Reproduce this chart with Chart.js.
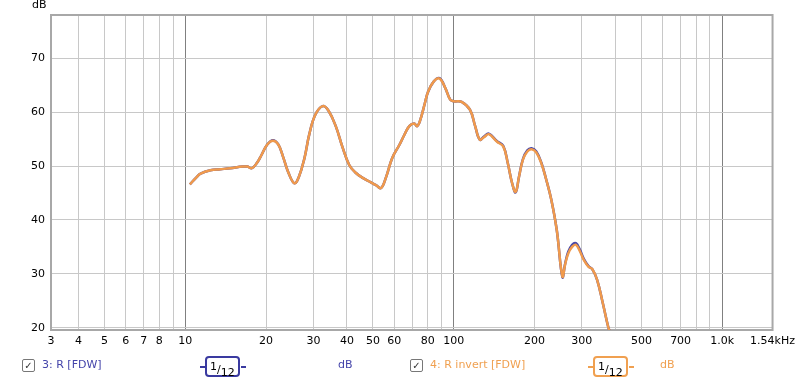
<!DOCTYPE html>
<html lang="en">
<head>
  <meta charset="UTF-8">
  <title>R / R invert [FDW]</title>
  <script src="https://cdn.jsdelivr.net/npm/chart.js"></script>
  <style>
    body { margin: 0; background: #fff; font-family: "DejaVu Sans", sans-serif; }
    #wrap { position: relative; width: 800px; height: 383px; }
    .lbl { position: absolute; font-size: 11px; white-space: nowrap; }
    .chk { position: absolute; width: 11px; height: 11px; border: 1px solid #777; border-radius: 2px;
           font-size: 10px; line-height: 11px; text-align: center; color: #333; }
    .oct { position: absolute; height: 17px; border: 2px solid; border-radius: 4px; font-size: 11px;
           line-height: 17px; padding: 0 3px; box-sizing: content-box; color: #000; }
    .oct sup { font-size: 11px; vertical-align: 3px; }
    .oct sub { font-size: 11px; vertical-align: -3px; }
    .stub { position: absolute; height: 2px; width: 5px; }
  </style>
</head>
<body>
<div id="wrap">
  <canvas id="frChart" width="800" height="383"></canvas>
  <div class="lbl" style="left:32px; top:-2px;">dB</div>

  <!-- legende en bas -->
  <div class="chk" style="left:22px; top:359px;">✓</div>
  <div class="lbl" style="left:42px; top:358px; color:#4444aa;">3: R [FDW]</div>
  <div class="stub" style="left:200px; top:366px; background:#3a3aa0;"></div>
  <div class="oct" style="left:205px; top:356px; border-color:#3a3aa0;"><sup>1</sup>/<sub>12</sub></div>
  <div class="stub" style="left:241px; top:366px; background:#3a3aa0;"></div>
  <div class="lbl" style="left:338px; top:358px; color:#4444aa;">dB</div>

  <div class="chk" style="left:410px; top:359px;">✓</div>
  <div class="lbl" style="left:430px; top:358px; color:#f0a050;">4: R invert [FDW]</div>
  <div class="stub" style="left:588px; top:366px; background:#f0a050;"></div>
  <div class="oct" style="left:593px; top:356px; border-color:#f0a050;"><sup>1</sup>/<sub>12</sub></div>
  <div class="stub" style="left:629px; top:366px; background:#f0a050;"></div>
  <div class="lbl" style="left:660px; top:358px; color:#f0a050;">dB</div>
</div>

<script>
  // frequences (Hz) et niveaux (dB)
  var freqs = [10.4, 11.0, 11.4, 12.4, 13.5, 14.7, 16.4, 17.0, 17.7, 18.5, 19.2, 20.2, 21.2, 22.2, 23.1, 24.2,
               25.5, 26.5, 27.8, 29.0, 30.5, 32.5, 34.2, 36.4, 38.5, 40.8, 43.0, 45.8, 49.0, 51.5, 53.6, 56.0,
               59.0, 62.7, 65.5, 68.3, 71.2, 73.0, 75.0, 78.0, 80.0, 84.0, 88.5, 93.1, 97.0, 100, 107, 115,
               120, 125, 130, 135, 145, 153, 159, 165, 170, 175, 181, 188, 195, 203, 212, 221, 231, 242,
               254, 260, 267, 276, 285, 295, 305, 318, 328, 342, 359, 376, 382];
  var rInvert = [46.6, 47.9, 48.6, 49.2, 49.4, 49.6, 49.9, 49.9, 49.6, 50.6, 52.0, 54.0, 54.7, 54.0, 51.8, 48.8,
                 46.8, 48.0, 51.5, 56.0, 59.5, 61.1, 60.2, 57.3, 53.5, 50.2, 48.8, 47.8, 47.0, 46.4, 45.9, 48.0,
                 51.5, 53.9, 55.8, 57.4, 57.9, 57.4, 58.5, 61.6, 63.6, 65.6, 66.2, 64.4, 62.3, 62.0, 61.9, 60.4,
                 57.5, 54.9, 55.4, 55.9, 54.5, 53.6, 50.5, 46.8, 45.2, 48.0, 51.2, 52.7, 53.1, 52.5, 50.5, 47.5, 43.7, 38.1,
                 29.5, 31.8, 33.8, 35.0, 35.4, 34.2, 32.6, 31.3, 30.9, 28.9, 24.6, 20.2, 19.2];
  var rNormal = [46.6, 47.9, 48.6, 49.2, 49.4, 49.6, 49.9, 49.9, 49.6, 50.6, 52.0, 54.0, 54.8, 54.0, 51.8, 48.8,
                 46.8, 48.0, 51.5, 56.0, 59.5, 61.1, 60.2, 57.3, 53.5, 50.2, 48.8, 47.8, 47.0, 46.4, 45.9, 48.0,
                 51.5, 53.9, 55.8, 57.4, 57.9, 57.4, 58.5, 61.6, 63.6, 65.6, 66.3, 64.4, 62.3, 62.0, 61.9, 60.4,
                 57.5, 54.9, 55.5, 56.0, 54.6, 53.7, 50.5, 46.8, 45.1, 48.0, 51.3, 52.9, 53.3, 52.7, 50.6, 47.5, 43.7, 38.1,
                 29.4, 31.9, 34.1, 35.4, 35.7, 34.5, 32.8, 31.4, 30.9, 28.9, 24.6, 20.2, 19.2];

  // graduations
  var xTicks = [3.16, 4, 5, 6, 7, 8, 9, 10, 20, 30, 40, 50, 60, 70, 80, 90, 100, 200, 300, 400, 500, 600, 700, 800, 900, 1000, 1540];
  var xLabels = ['3', '4', '5', '6', '7', '8', '', '10', '20', '30', '40', '50', '60', '', '80', '', '100', '200', '300', '', '500', '', '700', '', '', '1.0k', '1.54kHz'];
  var yTicks = [20, 30, 40, 50, 60, 70];
  var yLabels = ['20', '30', '40', '50', '60', '70'];
  var decades = [10, 100, 1000];

  Chart.defaults.font.family = 'DejaVu Sans';
  Chart.defaults.font.size = 11;
  Chart.defaults.color = '#000';

  // cadre gris autour de la zone de tracé
  var framePlugin = {
    id: 'frame',
    beforeDatasetsDraw: function(chart) {
      var a = chart.chartArea, ctx = chart.ctx;
      ctx.save();
      ctx.strokeStyle = '#a8a8a8';
      ctx.lineWidth = 2;
      ctx.strokeRect(a.left, a.top, a.right - a.left, a.bottom - a.top);
      ctx.restore();
    }
  };

  var ctx = document.getElementById('frChart').getContext('2d');
  var chart = new Chart(ctx, {
    type: 'line',
    data: {
      datasets: [{
        label: '3: R [FDW]',
        data: freqs.map(function(f, i) { return { x: f, y: rNormal[i] }; }),
        borderColor: '#4a4aa8',
        borderWidth: 2.5,
        pointRadius: 0,
        tension: 0.4,
        order: 1,
        fill: false
      }, {
        label: '4: R invert [FDW]',
        data: freqs.map(function(f, i) { return { x: f, y: rInvert[i] }; }),
        borderColor: '#f09a4c',
        borderWidth: 2.5,
        pointRadius: 0,
        tension: 0.4,
        order: 0,
        fill: false
      }]
    },
    options: {
      responsive: false,
      animation: false,
      layout: { padding: { top: 15, right: 25, left: 0, bottom: 0 } },
      plugins: { legend: { display: false }, tooltip: { enabled: false } },
      scales: {
        x: {
          type: 'logarithmic',
          min: 3.16,
          max: 1540,
          afterBuildTicks: function(s) { s.ticks = xTicks.map(function(v) { return { value: v }; }); },
          afterFit: function(s) { s.height = 53; },
          border: { display: false },
          grid: {
            drawTicks: false,
            lineWidth: 1,
            color: function(c) { return decades.indexOf(c.tick && c.tick.value) >= 0 ? '#808080' : '#c8c8c8'; }
          },
          ticks: {
            autoSkip: false,
            maxRotation: 0,
            padding: 5,
            callback: function(v, i) { return xLabels[i]; }
          }
        },
        y: {
          min: 19.6,
          max: 78,
          afterBuildTicks: function(s) { s.ticks = yTicks.map(function(v) { return { value: v }; }); },
          afterFit: function(s) { s.width = 51; },
          border: { display: false },
          grid: { drawTicks: false, color: '#c8c8c8' },
          ticks: {
            padding: 6,
            callback: function(v, i) { return yLabels[i]; }
          }
        }
      }
    },
    plugins: [framePlugin]
  });
</script>
</body>
</html>
